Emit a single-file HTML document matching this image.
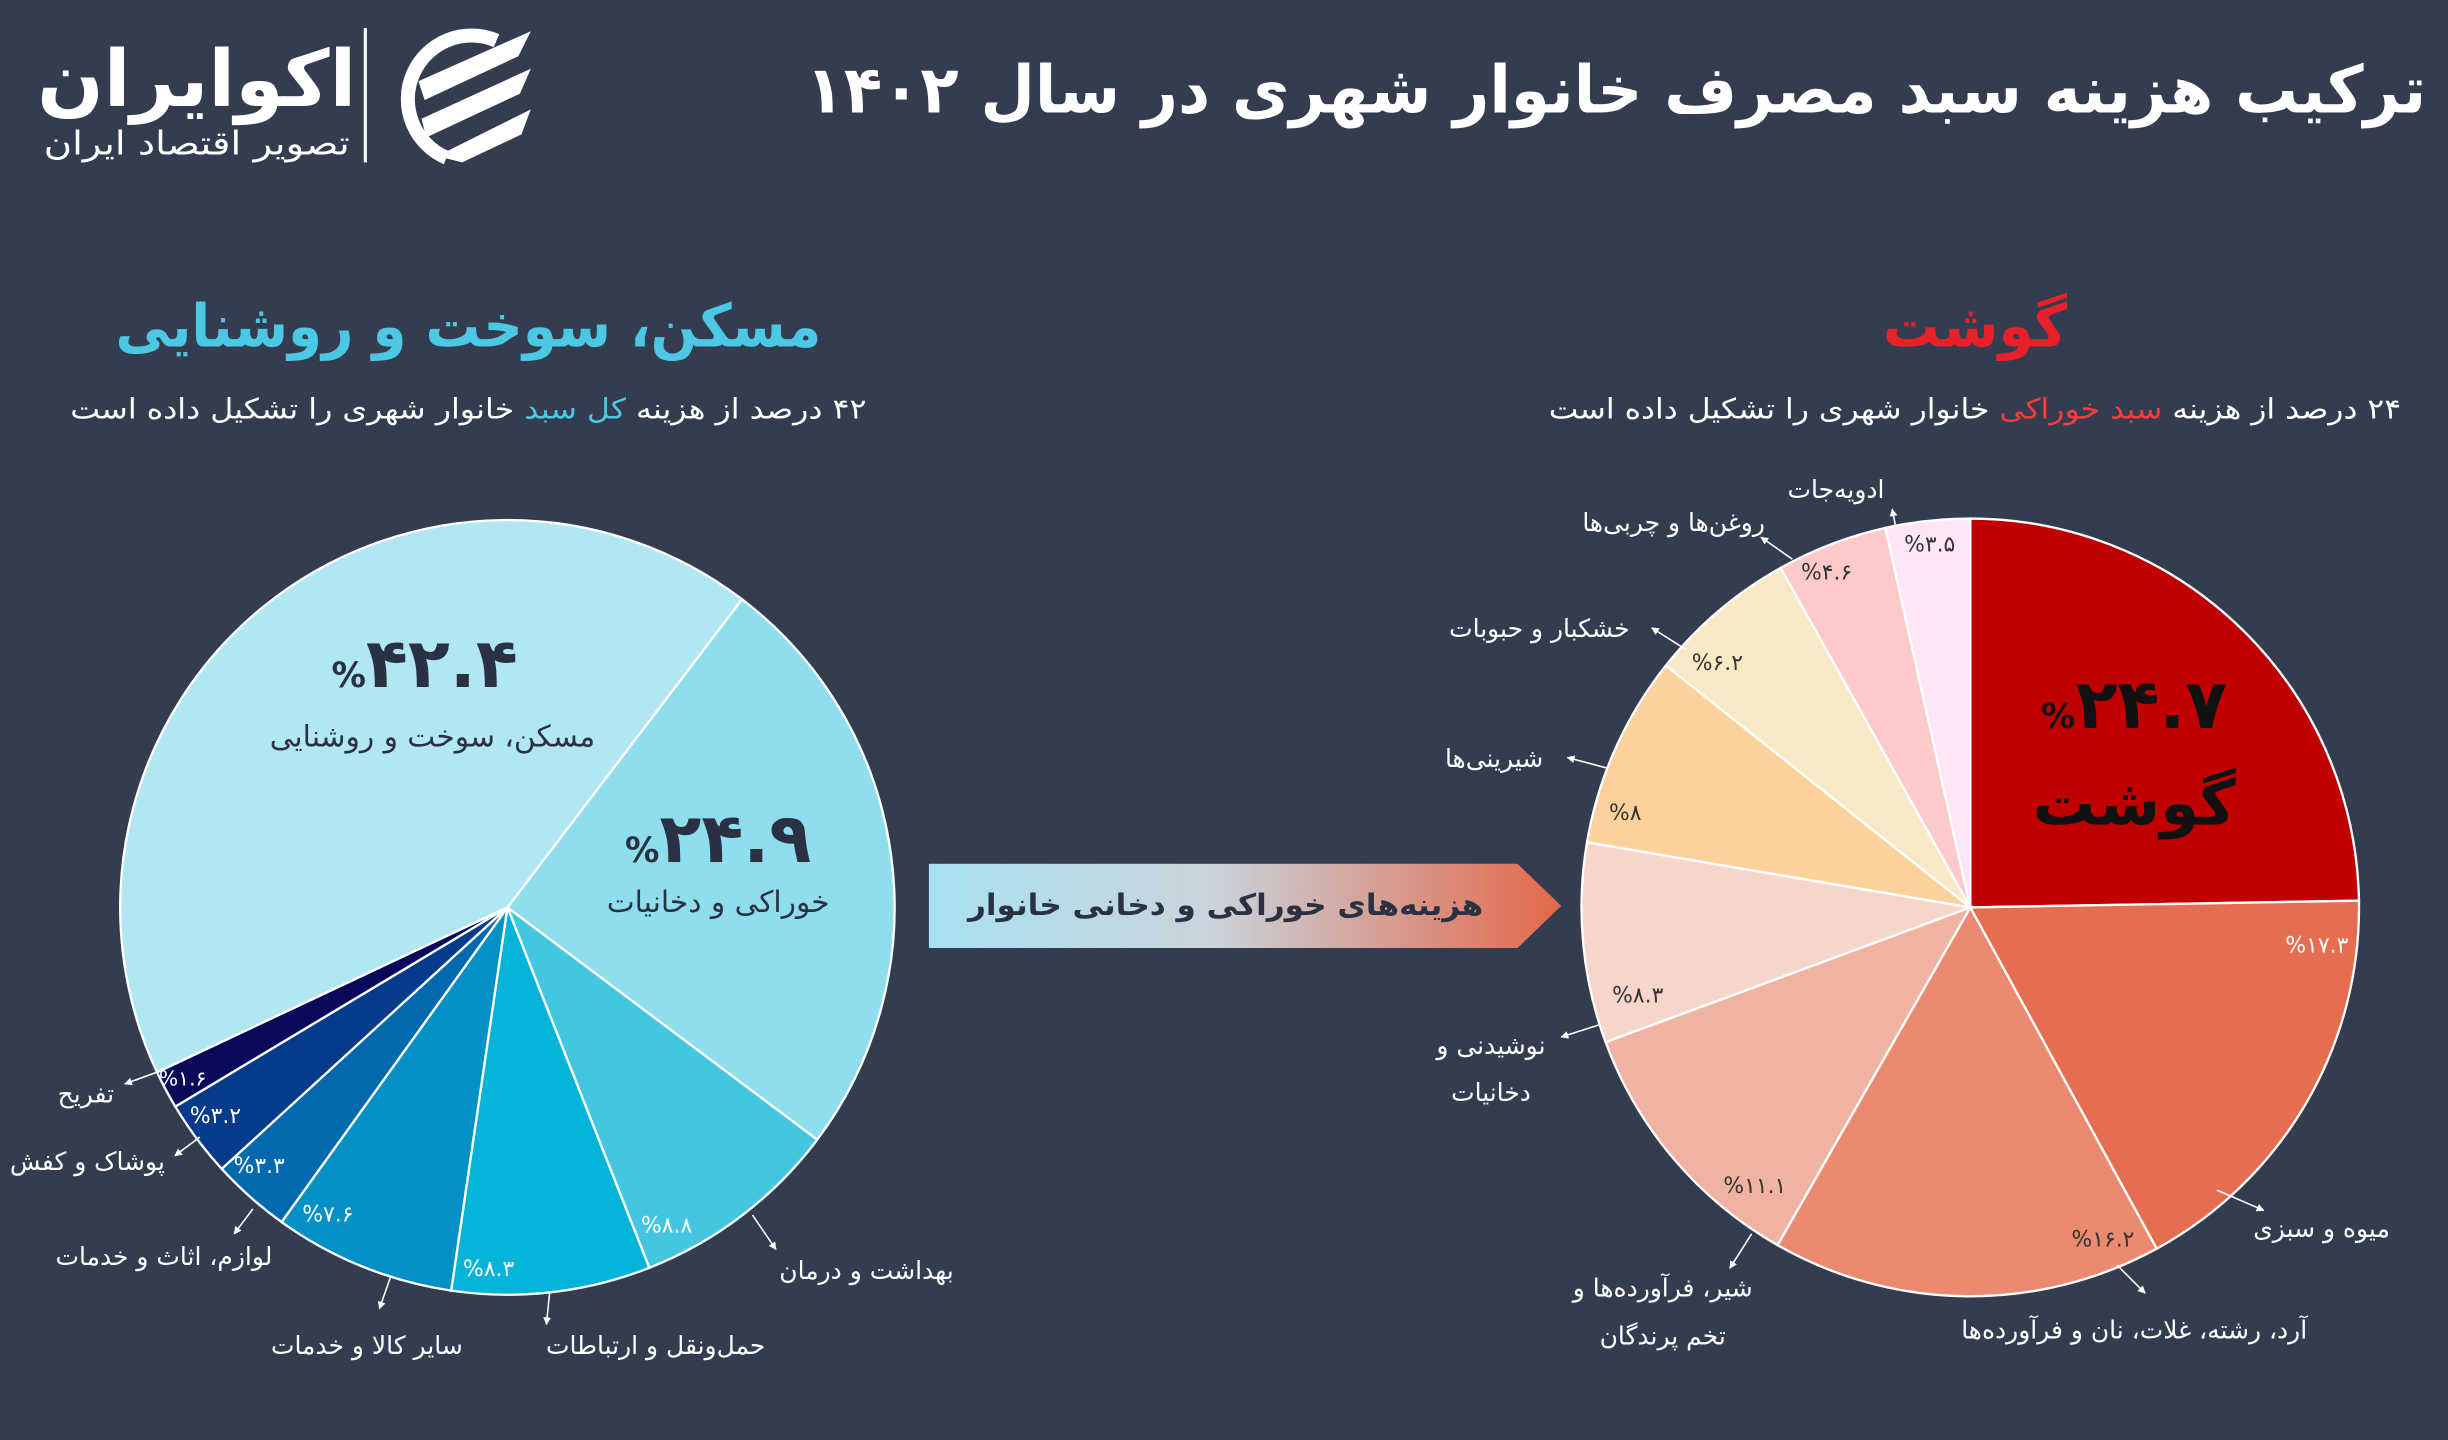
<!DOCTYPE html>
<html><head><meta charset="utf-8">
<style>
html,body{margin:0;padding:0;background:#333d4f;}
svg{display:block;}
text{font-family:"DejaVu Sans","Liberation Sans",sans-serif;}
</style></head>
<body>
<svg id="s" width="2448" height="1440" viewBox="0 0 1568 922" preserveAspectRatio="none" xmlns="http://www.w3.org/2000/svg">
<defs>
<linearGradient id="ag" x1="0" x2="1" y1="0" y2="0">
<stop offset="0" stop-color="#a8e1f1"/><stop offset="0.45" stop-color="#c9d3da"/><stop offset="1" stop-color="#e4674a"/>
</linearGradient>
<marker id="ar" viewBox="0 0 10 10" refX="9" refY="5" markerWidth="5" markerHeight="5" orient="auto"><path d="M0 0L10 5L0 10z" fill="#fff"/></marker>
</defs>
<rect width="1568" height="922" fill="#333d4f"/>

<!-- logo -->
<text x="126" y="68" fill="#fff" font-size="50" font-weight="bold" text-anchor="middle" direction="rtl">اکوایران</text>
<text x="126" y="99" fill="#fff" font-size="21" text-anchor="middle" direction="rtl" textLength="196" lengthAdjust="spacingAndGlyphs">تصویر اقتصاد ایران</text>
<rect x="233" y="18" width="2" height="86" fill="#fff"/>
<path d="M318 26 A40 40 0 1 0 286 101" fill="none" stroke="#fff" stroke-width="9"/>
<path d="M268 52 L340 20 L332 36 L272 64Z" fill="#fff"/>
<path d="M270 76 L340 44 L333 60 L273 88Z" fill="#fff"/>
<path d="M280 100 L340 70 L334 86 L296 104Z" fill="#fff"/>

<!-- title -->
<text x="1035" y="72" fill="#fff" font-size="42" font-weight="bold" text-anchor="middle" direction="rtl" textLength="1038" lengthAdjust="spacingAndGlyphs">ترکیب هزینه سبد مصرف خانوار شهری در سال ۱۴۰۲</text>

<!-- left headings -->
<text x="300" y="222" fill="#4cc8e4" font-size="38" font-weight="bold" text-anchor="middle" direction="rtl" textLength="452" lengthAdjust="spacingAndGlyphs">مسکن، سوخت و روشنایی</text>
<text x="300" y="268" fill="#fff" font-size="18" text-anchor="middle" direction="rtl" textLength="510" lengthAdjust="spacingAndGlyphs">۴۲ درصد از هزینه <tspan fill="#4cc8e4">کل سبد</tspan> خانوار شهری را تشکیل داده است</text>
<!-- right headings -->
<text x="1265" y="222" fill="#e8202a" font-size="38" font-weight="bold" text-anchor="middle" direction="rtl" textLength="118" lengthAdjust="spacingAndGlyphs">گوشت</text>
<text x="1265" y="268" fill="#fff" font-size="18" text-anchor="middle" direction="rtl" textLength="546" lengthAdjust="spacingAndGlyphs">۲۴ درصد از هزینه <tspan fill="#ff3a3a">سبد خوراکی</tspan> خانوار شهری را تشکیل داده است</text>

<!-- arrow -->
<path d="M595 553 H972 L1000 580 L972 607 H595Z" fill="url(#ag)"/>
<text x="785" y="586" fill="#2a3142" font-size="19" font-weight="bold" text-anchor="middle" direction="rtl" textLength="330" lengthAdjust="spacingAndGlyphs">هزینه‌های خوراکی و دخانی خانوار</text>

<g id="lp"></g>
<g id="rp"></g>

<g fill="#fff" font-size="16" text-anchor="middle">
<!-- left pie inner labels -->
<text x="272" y="440" font-size="44" font-weight="bold" fill="#2a3142" direction="ltr"><tspan font-size="22">%</tspan>۴۲.۴</text>
<text x="277" y="478" font-size="19" fill="#2a3142" direction="rtl">مسکن، سوخت و روشنایی</text>
<text x="460" y="552" font-size="44" font-weight="bold" fill="#2a3142" direction="ltr"><tspan font-size="22">%</tspan>۲۴.۹</text>
<text x="460" y="584" font-size="19" fill="#2a3142" direction="rtl">خوراکی و دخانیات</text>
<text x="427" y="789" font-size="14">%۸.۸</text>
<text x="313" y="817" font-size="14">%۸.۳</text>
<text x="210" y="782" font-size="14">%۷.۶</text>
<text x="166" y="751" font-size="14">%۳.۳</text>
<text x="138" y="719" font-size="14">%۳.۲</text>
<text x="117" y="695" font-size="13">%۱.۶</text>
<!-- left outer -->
<text x="555" y="819" direction="rtl">بهداشت و درمان</text>
<text x="420" y="867" direction="rtl">حمل‌ونقل و ارتباطات</text>
<text x="235" y="867" direction="rtl">سایر کالا و خدمات</text>
<text x="105" y="810" direction="rtl">لوازم، اثاث و خدمات</text>
<text x="56" y="749" direction="rtl">پوشاک و کفش</text>
<text x="55" y="706" direction="rtl">تفریح</text>

<!-- right inner -->
<text x="1367" y="466" font-size="44" font-weight="bold" fill="#111" direction="ltr"><tspan font-size="22">%</tspan>۲۴.۷</text>
<text x="1367" y="528" font-size="40" font-weight="bold" fill="#111" direction="rtl">گوشت</text>
<text x="1484" y="610" font-size="14">%۱۷.۳</text>
<text x="1347" y="798" font-size="14" fill="#333">%۱۶.۲</text>
<text x="1124" y="764" font-size="14" fill="#333">%۱۱.۱</text>
<text x="1049" y="642" font-size="14" fill="#333">%۸.۳</text>
<text x="1041" y="525" font-size="14" fill="#333">%۸</text>
<text x="1100" y="429" font-size="14" fill="#333">%۶.۲</text>
<text x="1170" y="371" font-size="14" fill="#333">%۴.۶</text>
<text x="1236" y="353" font-size="14" fill="#333">%۳.۵</text>
<!-- right outer -->
<text x="1487" y="792" direction="rtl">میوه و سبزی</text>
<text x="1367" y="857" direction="rtl">آرد، رشته، غلات، نان و فرآورده‌ها</text>
<text x="1065" y="830" direction="rtl">شیر، فرآورده‌ها و</text>
<text x="1065" y="861" direction="rtl">تخم پرندگان</text>
<text x="955" y="675" direction="rtl">نوشیدنی و</text>
<text x="955" y="705" direction="rtl">دخانیات</text>
<text x="957" y="491" direction="rtl">شیرینی‌ها</text>
<text x="986" y="408" direction="rtl">خشکبار و حبوبات</text>
<text x="1072" y="340" direction="rtl">روغن‌ها و چربی‌ها</text>
<text x="1176" y="319" direction="rtl">ادویه‌جات</text>
</g>

<g stroke="#fff" stroke-width="1" fill="none" marker-end="url(#ar)">
<path d="M482 778 L497 800"/>
<path d="M352 828 L350 848"/>
<path d="M250 818 L243 838"/>
<path d="M162 774 L150 790"/>
<path d="M128 728 L112 740"/>
<path d="M102 686 L80 694"/>
<path d="M1420 762 L1450 775"/>
<path d="M1356 810 L1374 828"/>
<path d="M1122 790 L1108 812"/>
<path d="M1025 656 L1000 664"/>
<path d="M1030 492 L1004 485"/>
<path d="M1080 416 L1058 402"/>
<path d="M1148 358 L1128 344"/>
<path d="M1214 336 L1212 326"/>
</g>
</svg>
<script>
function pie(g,cx,cy,r,start,vals,cols){
  var a=start, out='';
  var tot=vals.reduce(function(s,v){return s+v},0);
  for(var i=0;i<vals.length;i++){
    var d=vals[i]/tot*360, b=a+d;
    var x1=cx+r*Math.cos(a*Math.PI/180), y1=cy+r*Math.sin(a*Math.PI/180);
    var x2=cx+r*Math.cos(b*Math.PI/180), y2=cy+r*Math.sin(b*Math.PI/180);
    out+='<path d="M'+cx+' '+cy+' L'+x1+' '+y1+' A'+r+' '+r+' 0 '+(d>180?1:0)+' 1 '+x2+' '+y2+'Z" fill="'+cols[i]+'" stroke="#fff" stroke-width="1.5"/>';
    a=b;
  }
  document.getElementById(g).innerHTML=out;
}
pie('lp',325,581,248,-52.7,[24.9,8.8,8.3,7.6,3.3,3.2,1.6,42.4],
 ['#8fdeee','#45c6e0','#03b4d8','#0390c4','#0369ae','#063a8a','#0a0a5c','#b1e7f3']);
pie('rp',1262,581,249,-90,[24.7,17.3,16.2,11.1,8.3,8,6.2,4.6,3.5],
 ['#c00000','#e56e50','#eb8a70','#f1b3a1','#f8d5cb','#fdd19c','#f8e9c6','#fdcaca','#fde7f6']);
</script>
</body></html>
